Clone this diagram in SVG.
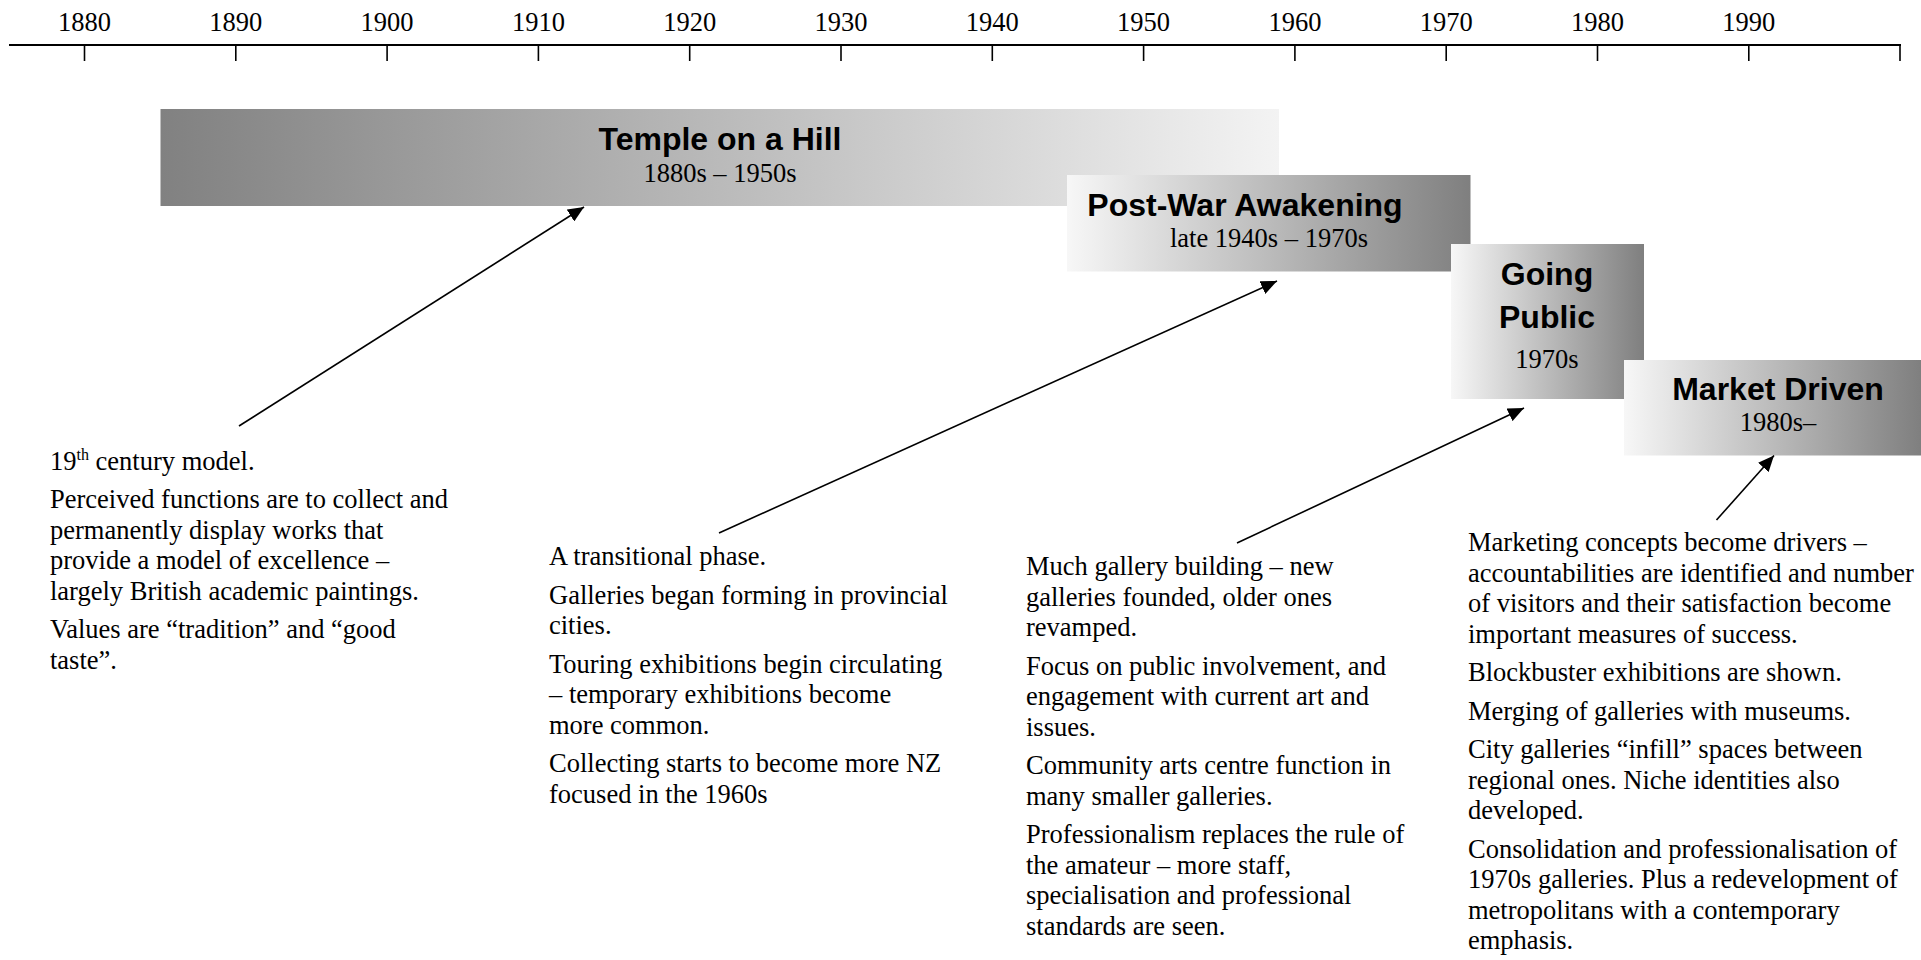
<svg xmlns="http://www.w3.org/2000/svg" width="1921" height="960" viewBox="0 0 1921 960">
<defs>
<linearGradient id="gDarkLeft" x1="0" y1="0" x2="1" y2="0">
<stop offset="0" stop-color="#818181"/>
<stop offset="1" stop-color="#f3f3f3"/>
</linearGradient>
<linearGradient id="gDarkRight" x1="0" y1="0" x2="1" y2="0">
<stop offset="0" stop-color="#f7f7f7"/>
<stop offset="1" stop-color="#7f7f7f"/>
</linearGradient>
<marker id="arr" markerUnits="userSpaceOnUse" markerWidth="18" markerHeight="14" refX="16" refY="7" orient="auto">
<path d="M0,0 L16,7 L0,14 Z" fill="#000"/>
</marker>
<style>
.yr{font-family:"Liberation Serif","Times New Roman",serif;font-size:26.5px;fill:#000;text-anchor:middle}
.body{font-family:"Liberation Serif","Times New Roman",serif;font-size:26.5px;fill:#000}
.ttl{font-family:"Liberation Sans",Arial,sans-serif;font-weight:bold;font-size:32px;fill:#000;text-anchor:middle}
.sub{font-family:"Liberation Serif","Times New Roman",serif;font-size:26.5px;fill:#000;text-anchor:middle}
.tick{stroke:#000;stroke-width:1.6}
.conn{stroke:#000;stroke-width:1.6;fill:none}
</style>
</defs>
<rect width="1921" height="960" fill="#fff"/>

<g id="axis">
<line x1="9" y1="45" x2="1901" y2="45" stroke="#000" stroke-width="2.2"/>
<line class="tick" x1="84.5" y1="45" x2="84.5" y2="61"/>
<line class="tick" x1="235.8" y1="45" x2="235.8" y2="61"/>
<line class="tick" x1="387.1" y1="45" x2="387.1" y2="61"/>
<line class="tick" x1="538.4" y1="45" x2="538.4" y2="61"/>
<line class="tick" x1="689.7" y1="45" x2="689.7" y2="61"/>
<line class="tick" x1="841" y1="45" x2="841" y2="61"/>
<line class="tick" x1="992.3" y1="45" x2="992.3" y2="61"/>
<line class="tick" x1="1143.6" y1="45" x2="1143.6" y2="61"/>
<line class="tick" x1="1294.9" y1="45" x2="1294.9" y2="61"/>
<line class="tick" x1="1446.2" y1="45" x2="1446.2" y2="61"/>
<line class="tick" x1="1597.5" y1="45" x2="1597.5" y2="61"/>
<line class="tick" x1="1748.8" y1="45" x2="1748.8" y2="61"/>
<line class="tick" x1="1900" y1="45" x2="1900" y2="61"/>
<text class="yr" x="84.5" y="31">1880</text>
<text class="yr" x="235.8" y="31">1890</text>
<text class="yr" x="387.1" y="31">1900</text>
<text class="yr" x="538.4" y="31">1910</text>
<text class="yr" x="689.7" y="31">1920</text>
<text class="yr" x="841" y="31">1930</text>
<text class="yr" x="992.3" y="31">1940</text>
<text class="yr" x="1143.6" y="31">1950</text>
<text class="yr" x="1294.9" y="31">1960</text>
<text class="yr" x="1446.2" y="31">1970</text>
<text class="yr" x="1597.5" y="31">1980</text>
<text class="yr" x="1748.8" y="31">1990</text>
</g>

<g id="temple">
<rect x="160.5" y="109" width="1118.5" height="97" fill="url(#gDarkLeft)"/>
<text class="ttl" x="720" y="149.5">Temple on a Hill</text>
<text class="sub" x="720" y="182">1880s – 1950s</text>
</g>

<g id="postwar">
<rect x="1067" y="175" width="403.5" height="96.5" fill="url(#gDarkRight)"/>
<text class="ttl" x="1245" y="215.5">Post-War Awakening</text>
<text class="sub" x="1269" y="246.5">late 1940s – 1970s</text>
</g>

<g id="goingpublic">
<rect x="1451" y="244" width="193" height="155" fill="url(#gDarkRight)"/>
<text class="ttl" x="1547" y="284.5">Going</text>
<text class="ttl" x="1547" y="327.5">Public</text>
<text class="sub" x="1547" y="368">1970s</text>
</g>

<g id="market">
<rect x="1624" y="360" width="297" height="95.5" fill="url(#gDarkRight)"/>
<text class="ttl" x="1778" y="399.5">Market Driven</text>
<text class="sub" x="1778" y="430.5">1980s–</text>
</g>

<g id="connectors">
<line class="conn" x1="239" y1="426" x2="584" y2="207" marker-end="url(#arr)"/>
<line class="conn" x1="719" y1="533" x2="1277" y2="281" marker-end="url(#arr)"/>
<line class="conn" x1="1237" y1="543" x2="1524" y2="408" marker-end="url(#arr)"/>
<line class="conn" x1="1716.5" y1="520" x2="1774" y2="455.5" marker-end="url(#arr)"/>
</g>

<g id="text1">
<text class="body" x="50" y="470">19<tspan font-size="16" dy="-10">th</tspan><tspan dy="10"> century model.</tspan></text>
<text class="body" x="50" y="508">Perceived functions are to collect and</text>
<text class="body" x="50" y="538.5">permanently display works that</text>
<text class="body" x="50" y="569">provide a model of excellence –</text>
<text class="body" x="50" y="599.5">largely British academic paintings.</text>
<text class="body" x="50" y="638">Values are “tradition” and “good</text>
<text class="body" x="50" y="668.5">taste”.</text>
</g>

<g id="text2">
<text class="body" x="549" y="565">A transitional phase.</text>
<text class="body" x="549" y="603.5">Galleries began forming in provincial</text>
<text class="body" x="549" y="634">cities.</text>
<text class="body" x="549" y="672.5">Touring exhibitions begin circulating</text>
<text class="body" x="549" y="703">– temporary exhibitions become</text>
<text class="body" x="549" y="733.5">more common.</text>
<text class="body" x="549" y="772">Collecting starts to become more NZ</text>
<text class="body" x="549" y="802.5">focused in the 1960s</text>
</g>

<g id="text3">
<text class="body" x="1026" y="575">Much gallery building – new</text>
<text class="body" x="1026" y="605.5">galleries founded, older ones</text>
<text class="body" x="1026" y="636">revamped.</text>
<text class="body" x="1026" y="674.5">Focus on public involvement, and</text>
<text class="body" x="1026" y="705">engagement with current art and</text>
<text class="body" x="1026" y="735.5">issues.</text>
<text class="body" x="1026" y="774">Community arts centre function in</text>
<text class="body" x="1026" y="804.5">many smaller galleries.</text>
<text class="body" x="1026" y="843">Professionalism replaces the rule of</text>
<text class="body" x="1026" y="873.5">the amateur – more staff,</text>
<text class="body" x="1026" y="904">specialisation and professional</text>
<text class="body" x="1026" y="934.5">standards are seen.</text>
</g>

<g id="text4">
<text class="body" x="1468" y="551">Marketing concepts become drivers –</text>
<text class="body" x="1468" y="581.5">accountabilities are identified and number</text>
<text class="body" x="1468" y="612">of visitors and their satisfaction become</text>
<text class="body" x="1468" y="642.5">important measures of success.</text>
<text class="body" x="1468" y="681">Blockbuster exhibitions are shown.</text>
<text class="body" x="1468" y="719.5">Merging of galleries with museums.</text>
<text class="body" x="1468" y="758">City galleries “infill” spaces between</text>
<text class="body" x="1468" y="788.5">regional ones. Niche identities also</text>
<text class="body" x="1468" y="819">developed.</text>
<text class="body" x="1468" y="857.5">Consolidation and professionalisation of</text>
<text class="body" x="1468" y="888">1970s galleries. Plus a redevelopment of</text>
<text class="body" x="1468" y="918.5">metropolitans with a contemporary</text>
<text class="body" x="1468" y="949">emphasis.</text>
</g>
</svg>
